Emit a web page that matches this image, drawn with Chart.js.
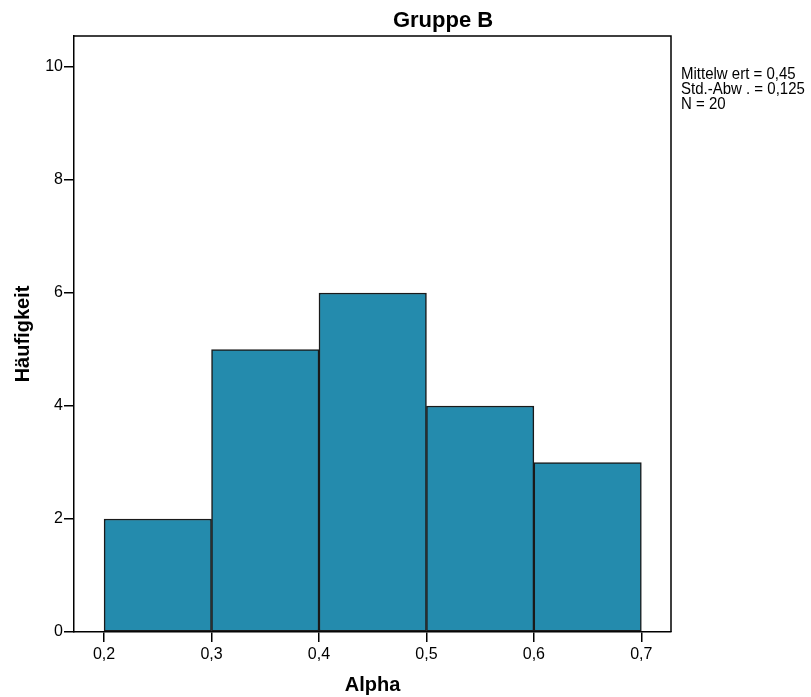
<!DOCTYPE html>
<html>
<head>
<meta charset="utf-8">
<script src="https://cdn.jsdelivr.net/npm/chart.js@4.4.1/dist/chart.umd.min.js"></script>
<style>
  html, body { margin: 0; padding: 0; background: #fff; }
  #wrap { width: 811px; height: 697px; }
</style>
</head>
<body>
<div id="wrap"><canvas id="histChart" width="811" height="697"></canvas></div>
<script>
// Histogram bins (Alpha) and counts
const binStarts = [0.2, 0.3, 0.4, 0.5, 0.6];
const binWidth  = 0.1;
const counts    = [2, 5, 6, 4, 3];
const statLines = ['Mittelw ert = 0,45', 'Std.-Abw . = 0,125', 'N = 20'];
const FONT = '"Liberation Sans", Arial, sans-serif';

// title + stats box + top/right frame
const extrasPlugin = {
    id: 'extras',
    afterDraw(chart) {
        const c = chart.ctx, a = chart.chartArea;
        c.save();
        c.strokeStyle = '#000';
        c.lineWidth = 1.5;
        c.beginPath();
        c.moveTo(a.left, a.top); c.lineTo(a.right, a.top); c.lineTo(a.right, a.bottom);
        c.stroke();

        c.fillStyle = '#000';
        c.font = 'bold 22px ' + FONT;
        c.textAlign = 'center';
        c.textBaseline = 'alphabetic';
        c.fillText('Gruppe B', 443, 27);

        // SPSS stats text looks a bit taller than wide
        c.font = '15px ' + FONT;
        c.textAlign = 'left';
        statLines.forEach((t, i) => {
            c.save();
            c.translate(681, 79 + i * 14.8);
            c.scale(1, 1.12);
            c.fillText(t, 0, 0);
            c.restore();
        });
        c.restore();
    }
};

new Chart(document.getElementById('histChart'), {
    type: 'bar',
    data: {
        datasets: [{
            data: binStarts.map((s, i) => ({ x: s + binWidth / 2, y: counts[i] })),
            backgroundColor: '#248BAD',
            borderColor: '#1a1a1a',
            borderWidth: 1.5,
            borderSkipped: false,
            barPercentage: 1,
            categoryPercentage: 1
        }]
    },
    options: {
        responsive: false,
        animation: false,
        layout: { padding: { left: 0, top: 36, right: 140, bottom: 0 } },
        plugins: { legend: { display: false }, tooltip: { enabled: false }, title: { display: false } },
        scales: {
            x: {
                type: 'linear',
                offset: false,
                min: 0.172, max: 0.7276,
                afterFit: s => { s.height = 65; },
                grid: { offset: false, drawOnChartArea: false, drawTicks: true, tickLength: 10, color: '#000', lineWidth: 1.5 },
                border: { display: true, color: '#000', width: 1.5 },
                ticks: {
                    stepSize: 0.1, includeBounds: false, color: '#000', padding: 3,
                    font: { family: FONT, size: 16 },
                    callback: v => v.toFixed(1).replace('.', ',')
                },
                title: { display: true, text: 'Alpha', color: '#000', font: { family: FONT, size: 20, weight: 'bold' }, padding: { top: 0, bottom: 0 } }
            },
            y: {
                min: 0, max: 10.55,
                afterFit: s => { s.width = 74; },
                grid: { drawOnChartArea: false, drawTicks: true, tickLength: 10, color: '#000', lineWidth: 1.5 },
                border: { display: true, color: '#000', width: 1.5 },
                ticks: {
                    stepSize: 2, includeBounds: false, color: '#000', padding: 1,
                    font: { family: FONT, size: 16 }
                },
                title: { display: true, text: 'Häufigkeit', color: '#000', font: { family: FONT, size: 20, weight: 'bold' }, padding: { top: 11, bottom: 0 } }
            }
        }
    },
    plugins: [extrasPlugin]
});
</script>
</body>
</html>
